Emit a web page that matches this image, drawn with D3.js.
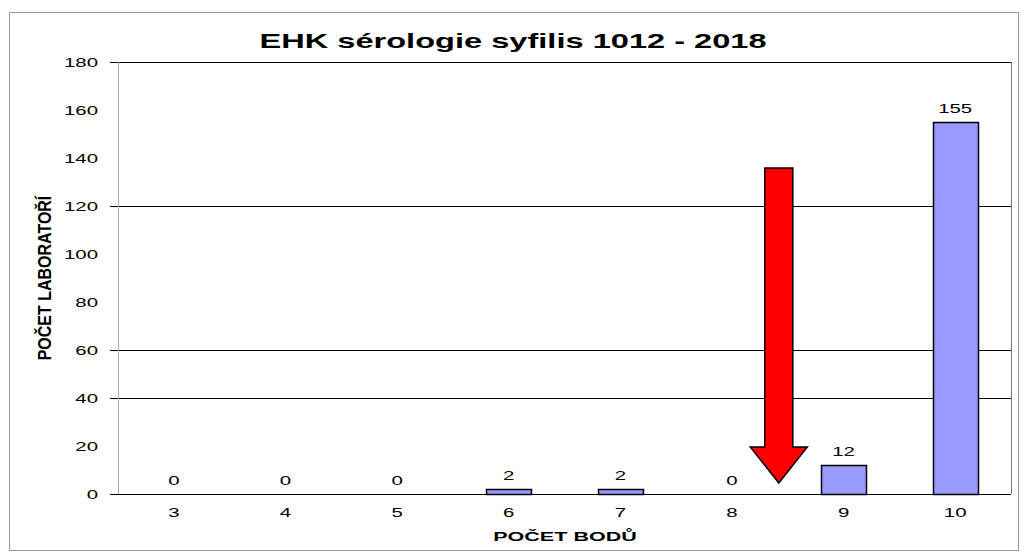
<!DOCTYPE html>
<html><head><meta charset="utf-8">
<script src="https://cdn.jsdelivr.net/npm/d3@7"></script>
<style>body{margin:0;background:#fff;}svg{display:block;font-family:Arial,"Liberation Sans",sans-serif;}</style>
</head><body>
<svg id="c" width="1027" height="558"></svg>
<script>
const categories = ["3","4","5","6","7","8","9","10"];
const values = [0,0,0,2,2,0,12,155];
const yTicks = [0,20,40,60,80,100,120,140,160,180];
const gridValues = [0,40,60,120,180];
const title = "EHK sérologie syfilis 1012 - 2018";
const yTitle = "POČET LABORATOŘÍ";
const xTitle = "POČET BODŮ";
// arrow annotation in data terms: between categories 8 and 9
const arrowFrom = {cat:"8", offset:0.42, top:135.8, headTop:19.6, tip:4.6};

const svg = d3.select("#c");
const m = {l:118, r:1011, t:62, b:494};
const SX = 1.7; // horizontal stretch of text seen in the reference
svg.append("rect").attr("x",9.5).attr("y",12.5).attr("width",1009).attr("height",538)
  .attr("fill","#fff").attr("stroke","#9a9a9a").attr("stroke-width",1);

const x = d3.scaleBand().domain(categories).range([m.l,m.r]).paddingInner(0.6).paddingOuter(0.3);
const y = d3.scaleLinear().domain([0,180]).range([m.b,m.t]);

function stext(g, tx, ty, sx, txt, anchor, size, weight){
  return g.append("text").attr("transform",`translate(${tx},${ty}) scale(${sx},1)`)
    .attr("text-anchor",anchor).attr("font-size",size).attr("font-weight",weight||"normal")
    .attr("fill","#000").text(txt);
}

// gridlines
svg.append("g").selectAll("line").data(gridValues).join("line")
  .attr("x1",110).attr("x2",m.r).attr("y1",d=>Math.round(y(d))+0.5).attr("y2",d=>Math.round(y(d))+0.5)
  .attr("stroke","#000").attr("stroke-width",1);
// axes lines
svg.append("line").attr("x1",m.l+0.5).attr("x2",m.l+0.5).attr("y1",m.t).attr("y2",m.b).attr("stroke","#aaa");
svg.append("line").attr("x1",m.r+0.5).attr("x2",m.r+0.5).attr("y1",m.t).attr("y2",m.b).attr("stroke","#777");

// y tick labels
const yg = svg.append("g");
yTicks.forEach(t=>stext(yg, 98, y(t)+4.5, SX, t, "end", 12));

// bars
svg.append("g").selectAll("rect").data(values).join("rect")
  .attr("x",(d,i)=>Math.round(x(categories[i]))+0.5)
  .attr("y",d=>Math.round(y(d))+0.5)
  .attr("width",Math.round(x.bandwidth()))
  .attr("height",d=>Math.round(y(0))-Math.round(y(d)))
  .attr("fill","#9999ff").attr("stroke","#000").attr("stroke-width",1.5);

// value labels
const vg = svg.append("g");
values.forEach((d,i)=>stext(vg, x(categories[i])+x.bandwidth()/2, y(d)-9, SX, d, "middle", 12));

// x tick labels
const xg = svg.append("g");
categories.forEach(c=>stext(xg, x(c)+x.bandwidth()/2, m.b+23, SX, c, "middle", 12));

// titles
stext(svg, 513, 48, 1.63, title, "middle", 20, "bold");
stext(svg, 565, 541, 1.66, xTitle, "middle", 13, "bold");
svg.append("text").attr("transform","translate(51,278) scale(1.2,1) rotate(-90)").attr("text-anchor","middle")
  .attr("font-family","'Liberation Sans Narrow','Arial Narrow',Arial").attr("font-stretch","condensed")
  .attr("font-size",16).attr("font-weight","bold").text(yTitle);

// arrow annotation
const step = x.step();
const cx = x(arrowFrom.cat)+x.bandwidth()/2 + arrowFrom.offset*step;
const sw = 14, hw = 28.5;
const yt = y(arrowFrom.top), yh = y(arrowFrom.headTop), yp = y(arrowFrom.tip);
const pts = [[cx-sw,yt],[cx+sw,yt],[cx+sw,yh],[cx+hw,yh],[cx,yp],[cx-hw,yh],[cx-sw,yh]];
svg.append("path").attr("d",d3.line()(pts)+"Z").attr("fill","#ff0000").attr("stroke","#000").attr("stroke-width",1.5).attr("stroke-linejoin","miter");
</script>
</body></html>
